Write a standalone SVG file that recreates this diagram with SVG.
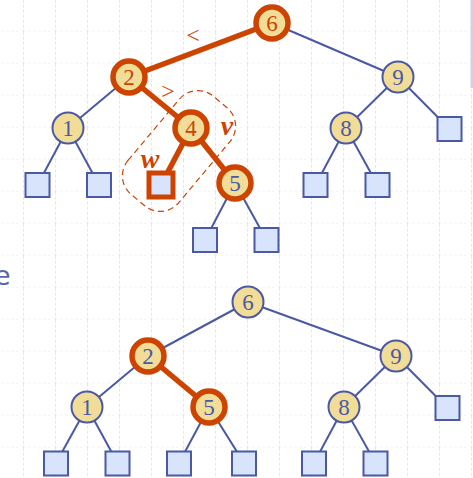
<svg xmlns="http://www.w3.org/2000/svg" width="473" height="478" viewBox="0 0 473 478">
<defs>
<style>
.grid{stroke:#e3e6f5;stroke-width:1;stroke-dasharray:3 2;fill:none}
.e{stroke:#4b58a4;stroke-width:2;fill:none}
.eo{stroke:#cc4400;stroke-width:5.5;fill:none;stroke-linecap:round}
.n circle{fill:#f1dd98;stroke:#4b58a4;stroke-width:2}
.no circle{fill:#f1dd98;stroke:#cc4400;stroke-width:5.5}
.n text{fill:#4b58a4}
.no text{fill:#cc4400}
.no text.bt{fill:#4b58a4}
text.d{font-family:"Liberation Serif",serif;font-size:23px;text-anchor:middle;dominant-baseline:central}
.s rect{fill:#d8e4fc;stroke:#4b58a4;stroke-width:2}
.so rect{fill:#d8e4fc;stroke:#cc4400;stroke-width:5}
.lbl{font-family:"Liberation Serif",serif;fill:#cc4400;text-anchor:middle;dominant-baseline:central}
</style>
<pattern id="gp" x="23" y="-0.3" width="32" height="32" patternUnits="userSpaceOnUse">
<path class="grid" d="M0.5 0V32M0 32H32"/>
</pattern>
</defs>
<rect width="473" height="478" fill="#fff"/>
<rect width="473" height="478" fill="url(#gp)"/>
<rect x="470.5" y="0" width="2.5" height="88" fill="#c9d3f0"/>
<text x="-6" y="285" font-family="DejaVu Sans, sans-serif" font-size="27" fill="#5566aa">e</text>

<g id="connectors">
<line class="eo" x1="272" y1="23" x2="129" y2="77"/>
<line class="e" x1="272" y1="23" x2="398" y2="77"/>
<line class="e" x1="129" y1="77" x2="68" y2="128"/>
<line class="eo" x1="129" y1="77" x2="191" y2="128"/>
<line class="e" x1="68" y1="128" x2="37.5" y2="185"/>
<line class="e" x1="68" y1="128" x2="99" y2="185"/>
<line class="eo" x1="191" y1="128" x2="161" y2="185"/>
<line class="eo" x1="191" y1="128" x2="235" y2="183"/>
<line class="e" x1="235" y1="183" x2="205" y2="240"/>
<line class="e" x1="235" y1="183" x2="266.5" y2="240"/>
<line class="e" x1="398" y1="77" x2="346" y2="128"/>
<line class="e" x1="398" y1="77" x2="449.5" y2="129"/>
<line class="e" x1="346" y1="128" x2="315.5" y2="185"/>
<line class="e" x1="346" y1="128" x2="377.5" y2="185"/>

<line class="e" x1="248" y1="302" x2="148" y2="356"/>
<line class="e" x1="248" y1="302" x2="396" y2="356"/>
<line class="e" x1="148" y1="356" x2="87" y2="407"/>
<line class="eo" x1="148" y1="356" x2="209" y2="407"/>
<line class="e" x1="87" y1="407" x2="56" y2="463"/>
<line class="e" x1="87" y1="407" x2="117.5" y2="463"/>
<line class="e" x1="209" y1="407" x2="179" y2="463"/>
<line class="e" x1="209" y1="407" x2="244" y2="463"/>
<line class="e" x1="396" y1="356" x2="344" y2="407"/>
<line class="e" x1="396" y1="356" x2="447.5" y2="408"/>
<line class="e" x1="344" y1="407" x2="314" y2="463"/>
<line class="e" x1="344" y1="407" x2="375.5" y2="463"/>
</g>

<rect x="115" y="118" width="128" height="66" rx="24" transform="rotate(-50 179 151)" fill="none" stroke="#cc4400" stroke-width="1.2" stroke-dasharray="6 4"/>
<text class="lbl" x="193" y="35" font-size="24">&lt;</text>
<text class="lbl" x="168" y="91" font-size="24">&gt;</text>
<text class="lbl" x="227" y="125" font-size="28" font-style="italic" font-weight="bold">v</text>
<text class="lbl" x="150" y="158" font-size="28" font-style="italic" font-weight="bold">w</text>

<g id="t6" class="no"><circle cx="272" cy="23" r="16"/><text class="d" x="272" y="23">6</text></g>
<g id="t2" class="no"><circle cx="129" cy="77" r="16"/><text class="d" x="129" y="77">2</text></g>
<g id="t9" class="n"><circle cx="398" cy="77" r="15.5"/><text class="d" x="398" y="77">9</text></g>
<g id="t1" class="n"><circle cx="68" cy="128" r="15.5"/><text class="d" x="68" y="128">1</text></g>
<g id="t4" class="no"><circle cx="191" cy="128" r="16"/><text class="d" x="191" y="128">4</text></g>
<g id="t8" class="n"><circle cx="346" cy="128" r="15.5"/><text class="d" x="346" y="128">8</text></g>
<g id="t5" class="no"><circle cx="235" cy="183" r="16"/><text class="d bt" x="235" y="183">5</text></g>
<g id="ts1" class="s"><rect x="25.5" y="173" width="24" height="24"/></g>
<g id="ts2" class="s"><rect x="87" y="173" width="24" height="24"/></g>
<g id="tw" class="so"><rect x="149" y="173" width="24" height="24"/></g>
<g id="ts4" class="s"><rect x="193" y="228" width="24" height="24"/></g>
<g id="ts5" class="s"><rect x="254.5" y="228" width="24" height="24"/></g>
<g id="ts6" class="s"><rect x="303.5" y="173" width="24" height="24"/></g>
<g id="ts7" class="s"><rect x="365.5" y="173" width="24" height="24"/></g>
<g id="ts8" class="s"><rect x="437.5" y="117" width="24" height="24"/></g>

<g id="b6" class="n"><circle cx="248" cy="302" r="15.5"/><text class="d" x="248" y="302">6</text></g>
<g id="b2" class="no"><circle cx="148" cy="356" r="16"/><text class="d bt" x="148" y="356">2</text></g>
<g id="b9" class="n"><circle cx="396" cy="356" r="15.5"/><text class="d" x="396" y="356">9</text></g>
<g id="b1" class="n"><circle cx="87" cy="407" r="15.5"/><text class="d" x="87" y="407">1</text></g>
<g id="b5" class="no"><circle cx="209" cy="407" r="16"/><text class="d bt" x="209" y="407">5</text></g>
<g id="b8" class="n"><circle cx="344" cy="407" r="15.5"/><text class="d" x="344" y="407">8</text></g>
<g id="bs1" class="s"><rect x="44" y="451.5" width="24" height="24"/></g>
<g id="bs2" class="s"><rect x="105.5" y="451.5" width="24" height="24"/></g>
<g id="bs3" class="s"><rect x="167" y="451.5" width="24" height="24"/></g>
<g id="bs4" class="s"><rect x="232" y="451.5" width="24" height="24"/></g>
<g id="bs5" class="s"><rect x="302" y="451.5" width="24" height="24"/></g>
<g id="bs6" class="s"><rect x="363.5" y="451.5" width="24" height="24"/></g>
<g id="bs7" class="s"><rect x="435.5" y="396" width="24" height="24"/></g>
</svg>
